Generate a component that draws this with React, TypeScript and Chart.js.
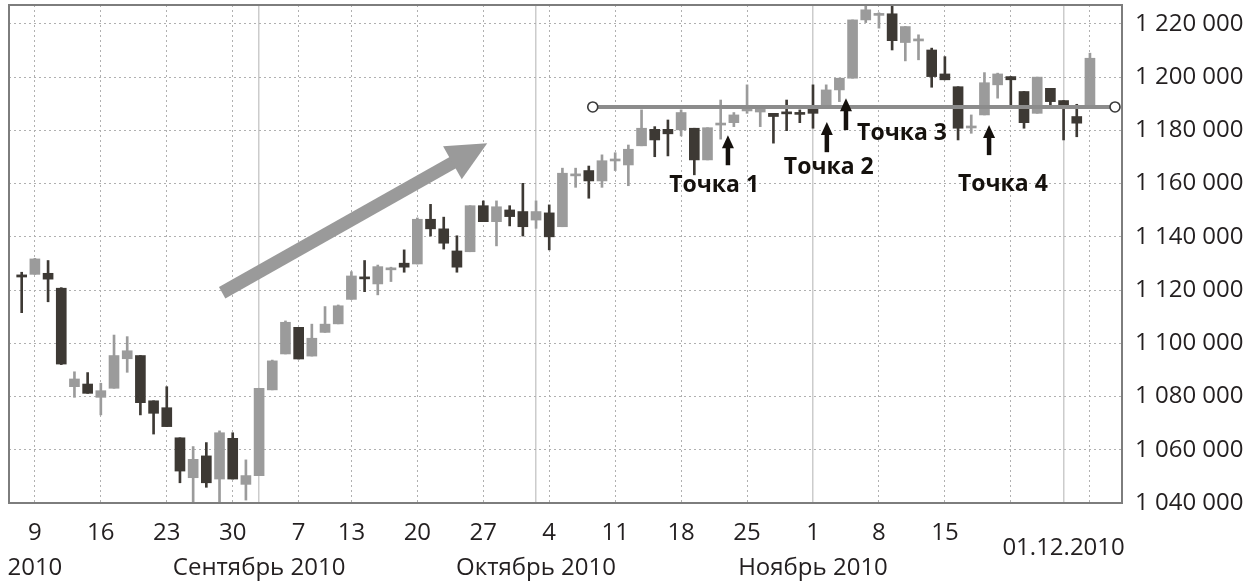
import { useEffect, useRef } from "react";
import { Chart, registerables } from "chart.js";

Chart.register(...registerables);

// ---- data (one entry per trading day, index 0..81) ----
const openP = [
  1125700, 1125900, 1126300, 1120700, 1083700, 1084700, 1079700, 1083100, 1094200, 1095400,
  1078400, 1075800, 1064500, 1049500, 1057700, 1049000, 1064300, 1047000, 1050300, 1082500,
  1096000, 1106000, 1095200, 1104100, 1107300, 1116500, 1124600, 1122300, 1127600, 1130100,
  1129800, 1146600, 1143000, 1134700, 1134400, 1151700, 1145700, 1150100, 1149500, 1146300,
  1149000, 1143800, 1162900, 1164900, 1161000, 1168500, 1167000, 1174200, 1180400, 1180400,
  1180200, 1180800, 1168900, 1182000, 1182900, 1187300, 1186900, 1186400, 1186900, 1186400,
  1188100, 1189600, 1195200, 1199600, 1221500, 1223200, 1223800, 1213000, 1213600, 1210200,
  1201200, 1196400, 1180900, 1185800, 1197100, 1200200, 1194600, 1186400, 1195800, 1191200,
  1185200, 1188900,
];
const closeP = [
  1124900, 1131700, 1124100, 1092200, 1086600, 1081200, 1082200, 1095400, 1097200, 1077700,
  1073700, 1068700, 1052000, 1056400, 1047600, 1066400, 1049000, 1050300, 1083100, 1093400,
  1107900, 1094100, 1101900, 1107200, 1114100, 1125300, 1124200, 1128800, 1127900, 1128600,
  1146600, 1143000, 1137600, 1128600, 1151700, 1145700, 1151300, 1147600, 1143800, 1149500,
  1140000, 1163900, 1163300, 1161000, 1168600, 1168900, 1172900, 1180800, 1176400, 1178700,
  1186700, 1168900, 1181000, 1182400, 1185800, 1188800, 1188400, 1185200, 1186200, 1186000,
  1186400, 1195200, 1199600, 1221500, 1225300, 1223600, 1213700, 1219000, 1214000, 1200200,
  1199000, 1180800, 1181300, 1197900, 1201200, 1199000, 1182900, 1200000, 1190800, 1189600,
  1182700, 1207100,
];
const highP = [
  1126700, 1131900, 1131100, 1120900, 1089300, 1089000, 1085000, 1103100, 1102500, 1095400,
  1078400, 1083700, 1064500, 1061200, 1062700, 1067100, 1066400, 1056200, 1083100, 1093700,
  1108400, 1106000, 1107200, 1113800, 1114400, 1126900, 1131100, 1129400, 1128600, 1135100,
  1147100, 1152200, 1147400, 1140400, 1151700, 1153500, 1153500, 1151700, 1160100, 1153500,
  1152000, 1165800, 1165800, 1166600, 1170800, 1171600, 1174500, 1187700, 1181400, 1183900,
  1187700, 1180800, 1181000, 1191400, 1186700, 1197100, 1188400, 1186400, 1191400, 1187700,
  1197100, 1197100, 1199600, 1221500, 1228000, 1224200, 1228000, 1219000, 1215900, 1210900,
  1207700, 1196400, 1185800, 1201700, 1201500, 1200200, 1194600, 1200000, 1195800, 1191200,
  1189800, 1209000,
];
const lowP = [
  1111500, 1125900, 1115600, 1092000, 1079700, 1081200, 1073100, 1083100, 1089100, 1073100,
  1065900, 1068700, 1047600, 1038000, 1045900, 1038000, 1049000, 1041100, 1050300, 1082500,
  1096000, 1094100, 1095200, 1104100, 1107300, 1116500, 1119400, 1118200, 1123200, 1126700,
  1129800, 1140300, 1135400, 1126700, 1134400, 1145700, 1136600, 1144100, 1140300, 1143200,
  1135100, 1143800, 1158600, 1154500, 1158600, 1164900, 1159200, 1174200, 1170100, 1170400,
  1177900, 1163300, 1168900, 1176700, 1181400, 1186400, 1181400, 1175200, 1179900, 1182900,
  1180800, 1188900, 1190800, 1199600, 1220500, 1218400, 1210200, 1206100, 1206500, 1196200,
  1199000, 1176400, 1178900, 1185800, 1192100, 1188900, 1180800, 1186400, 1189600, 1176400,
  1177600, 1188900,
];

// ---- axis ticks ----
const weekTickIdx = [1, 6, 11, 16, 21, 25, 30, 35, 40, 45, 50, 55, 60, 65, 70, 75, 81];
const weekTickLabels = ["9", "16", "23", "30", "7", "13", "20", "27", "4", "11", "18", "25", "1", "8", "15", "", ""];
const monthTickIdx = [1, 18, 39, 60, 79];
const monthTickLabels = ["2010", "Сентябрь 2010", "Октябрь 2010", "Ноябрь 2010", ""];
const dateLabelIdx = 79;
const dateLabel = "01.12.2010";
const yTickValues = [1040000, 1060000, 1080000, 1100000, 1120000, 1140000, 1160000, 1180000, 1200000, 1220000];
const xMin = -0.963;
const xMax = 83.43;
const yMin = 1040000;
const yMax = 1227100;

// ---- annotations (data units) ----
const trendFrom = [15.2, 1119000];
const trendTo = [35.3, 1175200];
const levelValue = 1188800;
const levelFrom = 43.3;
const levelTo = 82.9;
const pointLabels = ["Точка 1", "Точка 2", "Точка 3", "Точка 4"];
const pointArrowIdx = [53.55, 61.05, 62.5, 73.35];
const pointArrowBase = [1166900, 1171800, 1180100, 1170700];
const pointArrowTip = [1178200, 1183100, 1192100, 1182000];
const pointTextIdx = [52.5, 61.2, 66.75, 74.4];
const pointTextValue = [1159400, 1166200, 1179000, 1159800];

const DARK = "#3d3934";
const LIGHT = "#9b9b9b";
const TEXT = "#231f20";
const FONT = "Open Sans";
const FS = 24;

const fmt = (v: number) => String(v).replace(/\B(?=(\d{3})+(?!\d))/g, " ");

const annotations = {
  id: "annotations",
  afterDatasetsDraw(chart: any) {
    const { ctx, scales } = chart;
    const x = scales.x;
    const y = scales.y;
    const px = (i: number) => x.getPixelForValue(i);
    const py = (v: number) => y.getPixelForValue(v);
    ctx.save();

    // big trend arrow
    const x0 = px(trendFrom[0]), y0 = py(trendFrom[1]);
    const x1 = px(trendTo[0]), y1 = py(trendTo[1]);
    const dx = x1 - x0, dy = y1 - y0;
    const len = Math.hypot(dx, dy);
    const ux = dx / len, uy = dy / len;
    const headLen = 40, headHalf = 19;
    const bx = x1 - ux * headLen, by = y1 - uy * headLen;
    ctx.strokeStyle = "#9a9a9a";
    ctx.fillStyle = "#9a9a9a";
    ctx.lineWidth = 13;
    ctx.lineCap = "butt";
    ctx.beginPath();
    ctx.moveTo(x0, y0);
    ctx.lineTo(bx + ux * 2, by + uy * 2);
    ctx.stroke();
    ctx.beginPath();
    ctx.moveTo(x1, y1);
    ctx.lineTo(bx - uy * headHalf, by + ux * headHalf);
    ctx.lineTo(bx + uy * headHalf, by - ux * headHalf);
    ctx.closePath();
    ctx.fill();

    // horizontal level line
    const ly = py(levelValue);
    const lx0 = px(levelFrom), lx1 = px(levelTo);
    ctx.strokeStyle = "#8c8c8c";
    ctx.lineWidth = 4;
    ctx.beginPath();
    ctx.moveTo(lx0, ly);
    ctx.lineTo(lx1, ly);
    ctx.stroke();
    for (const cx of [lx0, lx1]) {
      ctx.beginPath();
      ctx.arc(cx, ly, 5, 0, Math.PI * 2);
      ctx.fillStyle = "#ffffff";
      ctx.fill();
      ctx.lineWidth = 1.6;
      ctx.strokeStyle = "#3a3a3a";
      ctx.stroke();
    }

    // point arrows and labels
    ctx.fillStyle = "#15110d";
    ctx.strokeStyle = "#15110d";
    for (let k = 0; k < pointLabels.length; k++) {
      const ax = px(pointArrowIdx[k]);
      const ab = py(pointArrowBase[k]);
      const at = py(pointArrowTip[k]);
      const hl = 13;
      ctx.lineWidth = 4.5;
      ctx.beginPath();
      ctx.moveTo(ax, ab);
      ctx.lineTo(ax, at + hl - 1);
      ctx.stroke();
      ctx.beginPath();
      ctx.moveTo(ax, at);
      ctx.lineTo(ax - 6, at + hl);
      ctx.lineTo(ax + 6, at + hl);
      ctx.closePath();
      ctx.fill();

      ctx.font = `bold 23px "${FONT}"`;
      ctx.textAlign = "center";
      ctx.textBaseline = "middle";
      ctx.fillText(pointLabels[k], px(pointTextIdx[k]), py(pointTextValue[k]));
    }
    ctx.restore();
  },
  afterDraw(chart: any) {
    const { ctx, chartArea, scales } = chart;
    ctx.save();
    ctx.strokeStyle = "#7d7d7d";
    ctx.lineWidth = 2;
    ctx.strokeRect(chartArea.left, chartArea.top, chartArea.right - chartArea.left, chartArea.bottom - chartArea.top);
    ctx.fillStyle = TEXT;
    ctx.font = `${FS}px "${FONT}"`;
    ctx.textAlign = "center";
    ctx.textBaseline = "middle";
    ctx.fillText(dateLabel, scales.x.getPixelForValue(dateLabelIdx), scales.x.top + 45);
    ctx.restore();
  },
};

export default function App() {
  const ref = useRef<HTMLCanvasElement>(null);

  useEffect(() => {
    document.body.style.margin = "0";
    const colors = openP.map((o, i) => (closeP[i] < o ? DARK : LIGHT));
    const bodies = openP.map((o, i) => ({ x: i, y: [Math.min(o, closeP[i]), Math.max(o, closeP[i])] }));
    const wicks = openP.map((_, i) => ({ x: i, y: [lowP[i], highP[i]] }));

    const noPad = (s: any) => {
      s.paddingTop = 0;
      s.paddingBottom = 0;
      s.paddingLeft = 0;
      s.paddingRight = 0;
    };

    const chart = new Chart(ref.current as HTMLCanvasElement, {
      type: "bar",
      data: {
        datasets: [
          {
            data: bodies as any,
            backgroundColor: colors,
            barThickness: 10,
            minBarLength: 2,
            grouped: false,
            borderWidth: 0,
          },
          {
            data: wicks as any,
            backgroundColor: colors,
            barThickness: 2,
            grouped: false,
            borderWidth: 0,
          },
        ],
      },
      options: {
        responsive: false,
        animation: false,
        layout: { padding: { left: 9, top: 5, right: 0, bottom: 0 } },
        plugins: { legend: { display: false }, tooltip: { enabled: false } },
        scales: {
          x: {
            type: "linear",
            position: "bottom",
            min: xMin,
            max: xMax,
            offset: false,
            afterBuildTicks: (s: any) => {
              s.ticks = weekTickIdx.map((v) => ({ value: v }));
            },
            afterFit: (s: any) => {
              s.height = 48;
              noPad(s);
            },
            grid: { color: "#b0b0b0", lineWidth: 1, drawTicks: false, offset: false },
            border: { display: false, dash: [2, 3] },
            ticks: {
              autoSkip: false,
              maxRotation: 0,
              padding: 16,
              color: TEXT,
              font: { family: FONT, size: FS },
              callback: (_v: any, i: number) => weekTickLabels[i],
            },
          },
          x2: {
            type: "linear",
            axis: "x",
            position: "bottom",
            weight: 1,
            min: xMin,
            max: xMax,
            offset: false,
            afterBuildTicks: (s: any) => {
              s.ticks = monthTickIdx.map((v) => ({ value: v }));
            },
            afterFit: (s: any) => {
              s.height = 35;
              noPad(s);
            },
            grid: {
              color: (c: any) => (c.index === 0 ? "rgba(0,0,0,0)" : "#cccccc"),
              lineWidth: 1.5,
              drawTicks: false,
              offset: false,
            },
            border: { display: false },
            ticks: {
              autoSkip: false,
              maxRotation: 0,
              padding: 3,
              color: TEXT,
              font: { family: FONT, size: FS },
              callback: (_v: any, i: number) => monthTickLabels[i],
            },
          },
          y: {
            type: "linear",
            position: "right",
            min: yMin,
            max: yMax,
            afterBuildTicks: (s: any) => {
              s.ticks = yTickValues.map((v) => ({ value: v }));
            },
            afterFit: (s: any) => {
              s.width = 136;
              noPad(s);
            },
            grid: { color: "#b0b0b0", lineWidth: 1, drawTicks: false },
            border: { display: false, dash: [2, 3] },
            ticks: {
              autoSkip: false,
              padding: 13,
              color: TEXT,
              font: { family: FONT, size: FS },
              callback: (v: any) => fmt(Number(v)),
            },
          },
        },
      } as any,
      plugins: [annotations],
    });
    return () => chart.destroy();
  }, []);

  return (
    <div style={{ width: 1258, height: 586 }}>
      <canvas ref={ref} width={1258} height={586} style={{ display: "block" }} />
    </div>
  );
}
